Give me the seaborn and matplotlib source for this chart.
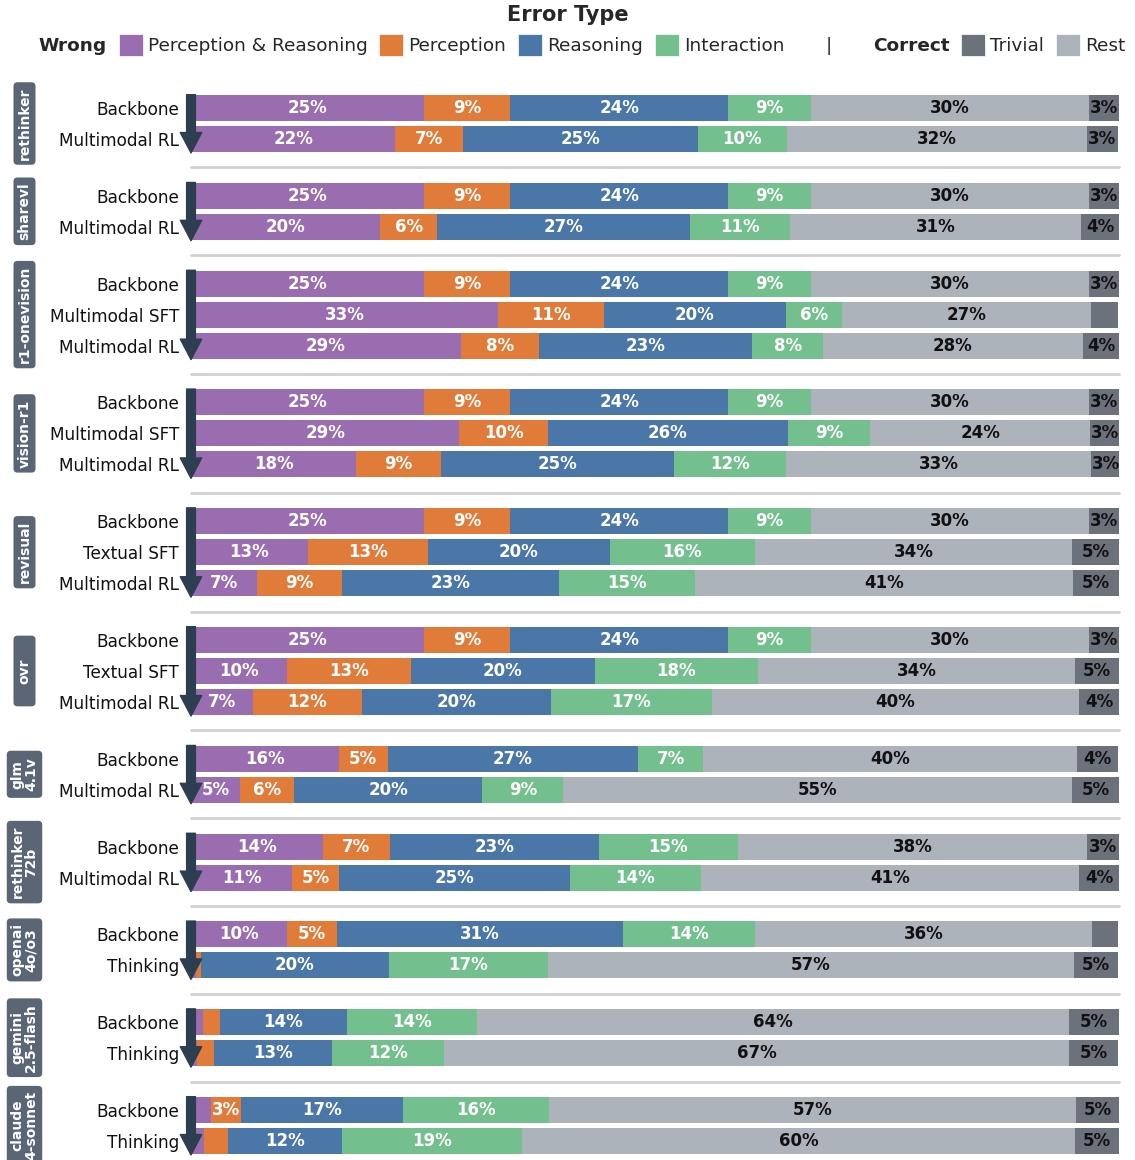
import matplotlib
matplotlib.use("Agg")
import numpy as np
import pandas as pd
import matplotlib.pyplot as plt
import seaborn as sns
from matplotlib.patches import Patch, FancyBboxPatch
from matplotlib.lines import Line2D
from matplotlib.transforms import IdentityTransform

# --- data (percent of samples per error type) ---
groups = ["rethinker", "sharevl", "r1-onevision", "vision-r1", "revisual", "ovr",
          "glm\n4.1v", "rethinker\n72b", "openai\n4o/o3", "gemini\n2.5-flash",
          "claude\n4-sonnet"]
group_stages = [
    ["Backbone", "Multimodal RL"],
    ["Backbone", "Multimodal RL"],
    ["Backbone", "Multimodal SFT", "Multimodal RL"],
    ["Backbone", "Multimodal SFT", "Multimodal RL"],
    ["Backbone", "Textual SFT", "Multimodal RL"],
    ["Backbone", "Textual SFT", "Multimodal RL"],
    ["Backbone", "Multimodal RL"],
    ["Backbone", "Multimodal RL"],
    ["Backbone", "Thinking"],
    ["Backbone", "Thinking"],
    ["Backbone", "Thinking"],
]
perc_reason = [25.1, 22.0, 25.1, 20.4, 25.1, 33.1, 29.1, 25.1, 28.9, 17.8, 25.1, 12.6, 7.1,
               25.1, 10.3, 6.7, 15.9, 5.3, 14.2, 10.9, 10.3, 0.5, 1.3, 0.6, 2.2, 1.4]
perception = [9.3, 7.3, 9.3, 6.1, 9.3, 11.4, 8.4, 9.3, 9.6, 9.1, 9.3, 12.9, 9.2,
              9.3, 13.4, 11.7, 5.3, 5.8, 7.2, 5.1, 5.4, 0.6, 1.8, 1.9, 3.2, 2.6]
reasoning = [23.5, 25.3, 23.5, 27.3, 23.5, 19.6, 23.0, 23.5, 25.8, 25.2, 23.5, 19.6, 23.4,
             23.5, 19.8, 20.4, 27.0, 20.3, 22.6, 24.8, 30.8, 20.2, 13.7, 12.7, 17.4, 12.3]
interaction = [8.9, 9.6, 8.9, 10.7, 8.9, 6.0, 7.6, 8.9, 8.9, 12.0, 8.9, 15.7, 14.6,
               8.9, 17.6, 17.3, 7.0, 8.7, 14.9, 14.2, 14.3, 17.2, 14.0, 12.1, 15.8, 19.4]
rest = [30.0, 32.3, 30.0, 31.4, 30.0, 26.9, 28.0, 30.0, 23.7, 32.9, 30.0, 34.1, 40.7,
        30.0, 34.2, 39.6, 40.3, 54.8, 37.7, 40.7, 36.3, 56.6, 63.8, 67.3, 56.8, 59.6]
trivial = [3.2, 3.4, 3.2, 4.1, 3.2, 2.9, 4.0, 3.2, 3.1, 3.1, 3.2, 5.2, 5.1,
           3.2, 4.7, 4.3, 4.4, 5.1, 3.4, 4.3, 2.8, 4.8, 5.4, 5.3, 4.6, 4.7]

categories = ["Perception & Reasoning", "Perception", "Reasoning", "Interaction", "Rest", "Trivial"]
palette = {
    "Perception & Reasoning": "#996db0",
    "Perception": "#e07b3a",
    "Reasoning": "#4a76a8",
    "Interaction": "#73bf8d",
    "Rest": "#adb3ba",
    "Trivial": "#6b727c",
}
ARROW = "#2c3e50"
BOX = "#5a6575"

df = pd.DataFrame({
    "group": [g for g, st in zip(groups, group_stages) for _ in st],
    "stage": [s for st in group_stages for s in st],
    "Perception & Reasoning": perc_reason,
    "Perception": perception,
    "Reasoning": reasoning,
    "Interaction": interaction,
    "Rest": rest,
    "Trivial": trivial,
})
cum = df[categories].cumsum(axis=1)
for c in categories:
    df["cum_" + c] = cum[c]

sns.set_theme(style="white")
plt.rcParams["font.family"] = ["DejaVu Sans"]

W, H = 1135, 1160
fig = plt.figure(figsize=(W / 100, H / 100), dpi=100)

ROW, GAP = 31, 56.8
BAR_L, BAR_R = 191, 1119

y = 108
label_texts = []
for gi, g in enumerate(groups):
    sub = df[df["group"] == g].reset_index(drop=True)
    n = len(sub)
    top = y - ROW / 2
    bottom = y + (n - 1) * ROW + ROW / 2
    ax = fig.add_axes([BAR_L / W, 1 - bottom / H, (BAR_R - BAR_L) / W, (bottom - top) / H])
    # stacked bars: draw cumulative totals from the widest down
    for c in reversed(categories):
        sns.barplot(data=sub, y="stage", x="cum_" + c, color=palette[c], width=0.84,
                    saturation=1, errorbar=None, linewidth=0, ax=ax)
    ax.set_xlim(0, 100)
    ax.set_ylim(n - 0.5, -0.5)
    ax.set(xlabel="", ylabel="")
    ax.set_xticks([])
    sns.despine(ax=ax, left=True, bottom=True)
    ax.tick_params(axis="y", left=True, length=3, width=1, color="#333333", pad=5.5,
                   labelsize=12.2, labelcolor="#111111")

    for i, r in sub.iterrows():
        for c in categories:
            v = r[c]
            if v >= 3:
                left = r["cum_" + c] - v
                ax.text(left + v / 2, i, f"{v:.0f}%", ha="center", va="center",
                        fontsize=12, fontweight="bold",
                        color="#111111" if c in ("Rest", "Trivial") else "white")

    ax.annotate("", xy=(0, n - 1 + 0.45), xytext=(0, -0.43),
                arrowprops=dict(arrowstyle="simple,head_length=1.05,head_width=1.1,tail_width=0.45",
                                color=ARROW, shrinkA=0, shrinkB=0, mutation_scale=14),
                annotation_clip=False)

    cy = (top + bottom) / 2
    t = fig.text(24.5 / W, 1 - cy / H, g, rotation=90, ha="center", va="center",
                 color="white", fontweight="bold", fontsize=10, linespacing=0.95, zorder=3)
    label_texts.append((t, cy, bottom - top))

    if gi < len(groups) - 1:
        sep = bottom + (GAP - ROW) / 2
        fig.add_artist(Line2D([BAR_L / W, BAR_R / W], [1 - sep / H] * 2,
                              color="#d0d0d0", lw=2, transform=fig.transFigure))
        y = y + (n - 1) * ROW + GAP

# rounded boxes behind group labels
fig.canvas.draw()
renderer = fig.canvas.get_renderer()
for t, cy, span in label_texts:
    bb = t.get_window_extent(renderer)
    bw = bb.width + 8
    bh = max(bb.height + 10, 0.76 * span)
    cx = (bb.x0 + bb.x1) / 2
    cyd = H - cy
    box = FancyBboxPatch((cx - bw / 2, cyd - bh / 2), bw, bh,
                         boxstyle="round,pad=0,rounding_size=4",
                         fc=BOX, ec="none", transform=IdentityTransform(), zorder=2)
    fig.add_artist(box)

# legend
blank = Patch(facecolor="none", edgecolor="none")
handles = [blank] + [Patch(facecolor=palette[c], edgecolor="white", lw=0.5) for c in categories[:4]] \
    + [blank, blank] + [Patch(facecolor=palette["Trivial"], edgecolor="white", lw=0.5),
                        Patch(facecolor=palette["Rest"], edgecolor="white", lw=0.5)]
labels = ["Wrong"] + categories[:4] + ["|", "Correct", "Trivial", "Rest"]
leg = fig.legend(handles, labels, loc="upper center", bbox_to_anchor=(0.5, 1.0), ncol=9,
                 frameon=False, fontsize=13.3, title="Error Type",
                 title_fontproperties={"weight": "bold", "size": 15},
                 handlelength=1.3, handleheight=1.5, handletextpad=0.27,
                 columnspacing=0.65, borderaxespad=0.1, borderpad=0.15)
for i in (0, 6):
    leg.get_texts()[i].set_fontweight("bold")

fig.savefig("out.png", dpi=100)
